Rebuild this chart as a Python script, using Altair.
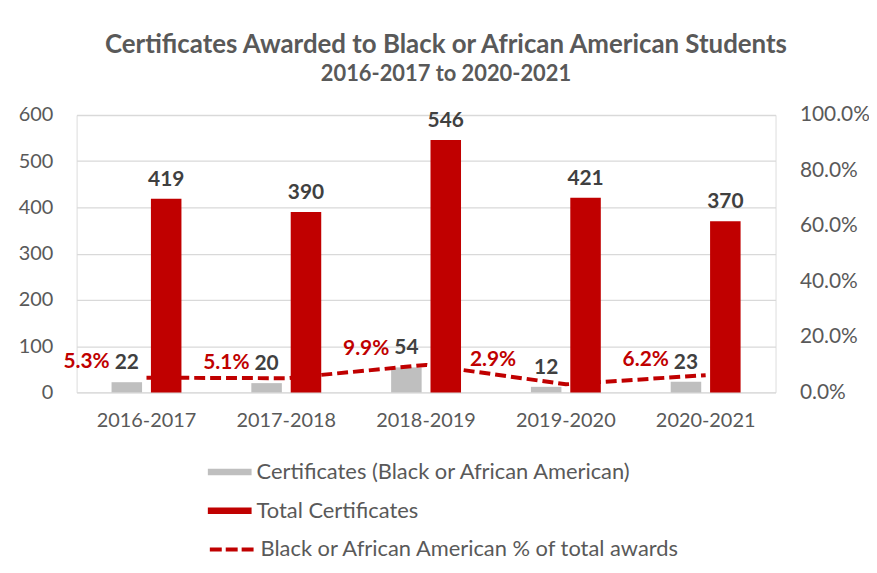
import altair as alt
import pandas as pd

years = ["2016-2017", "2017-2018", "2018-2019", "2019-2020", "2020-2021"]
black_certs = [22, 20, 54, 12, 23]
total_certs = [419, 390, 546, 421, 370]
pct_black = [0.053, 0.051, 0.099, 0.029, 0.062]
pct_labels = ["5.3%", "5.1%", "9.9%", "2.9%", "6.2%"]
bar_series = ["Certificates (Black or African American)", "Total Certificates"]
line_series = "Black or African American % of total awards"

bars_df = pd.DataFrame({
    "year": years * 2,
    "series": [bar_series[0]] * len(years) + [bar_series[1]] * len(years),
    "value": black_certs + total_certs,
})
line_df = pd.DataFrame({
    "year": years,
    "pct": pct_black,
    "label": pct_labels,
    "series": [line_series] * len(years),
})

FONT = "Lato"
GRAY_TXT = "#595959"
RED = "#C00000"

x_enc = alt.X(
    "year:N", sort=years, title=None,
    scale=alt.Scale(paddingInner=0.5, paddingOuter=0.25),
    axis=alt.Axis(labelAngle=0, labelFontSize=20, labelColor=GRAY_TXT, labelPadding=18,
                  domain=False, ticks=False, labelFont=FONT),
)
xoff = alt.XOffset("series:N", sort=bar_series,
                   scale=alt.Scale(paddingInner=0.225, paddingOuter=0))
y_left = alt.Y(
    "value:Q", scale=alt.Scale(domain=[0, 600]), title=None,
    axis=alt.Axis(values=[0, 100, 200, 300, 400, 500, 600], labelFontSize=20, labelColor=GRAY_TXT,
                  labelPadding=24, domain=False, ticks=False, gridColor="#D9D9D9", gridWidth=1.3,
                  labelFont=FONT),
)
y_right = alt.Y(
    "pct:Q", scale=alt.Scale(domain=[0, 1]), title=None,
    axis=alt.Axis(orient="right", format=".1%", values=[0, 0.2, 0.4, 0.6, 0.8, 1.0], grid=False,
                  domain=False, ticks=False, labelPadding=24, labelFontSize=21, labelColor=GRAY_TXT,
                  labelFont=FONT),
)

bars = alt.Chart(bars_df).mark_bar().encode(
    x=x_enc, xOffset=xoff, y=y_left,
    fill=alt.Fill(
        "series:N", scale=alt.Scale(domain=bar_series, range=["#BFBFBF", RED]),
        legend=alt.Legend(
            orient="none", legendX=143, legendY=348, title=None, direction="vertical",
            symbolType="M-2,-0.3H2V0.3H-2Z", symbolSize=484, symbolStrokeWidth=0,
            labelFontSize=22, labelColor=GRAY_TXT, labelFont=FONT, labelOffset=16,
            rowPadding=17, padding=0, labelLimit=600,
        ),
    ),
)
bar_text = alt.Chart(bars_df).mark_text(
    baseline="alphabetic", dy=-13, fontSize=21, fontWeight="bold", color="#404040", font=FONT
).encode(x=x_enc, xOffset=xoff, y=y_left, text=alt.Text("value:Q"))

line = alt.Chart(line_df).mark_line(strokeWidth=4, strokeDash=[11, 5]).encode(
    x=x_enc, y=y_right,
    stroke=alt.Stroke(
        "series:N", scale=alt.Scale(domain=[line_series], range=[RED]),
        legend=alt.Legend(
            orient="none", legendX=143, legendY=424, title=None,
            symbolType="M-2,0H2", symbolSize=484, symbolStrokeWidth=4, symbolDash=[12, 4],
            symbolFillColor="transparent", symbolStrokeColor=RED,
            labelFontSize=22, labelColor=GRAY_TXT, labelFont=FONT, labelOffset=16,
            padding=0, labelLimit=600,
        ),
    ),
)
pct_text_style = dict(align="right", baseline="middle", fontSize=21, fontWeight="bold",
                      color=RED, font=FONT)
line_text = alt.Chart(line_df).transform_filter(
    alt.datum.year != "2019-2020"
).mark_text(dx=-37, dy=-15.5, **pct_text_style).encode(x=x_enc, y=y_right, text="label:N")
line_text_low = alt.Chart(line_df).transform_filter(
    alt.datum.year == "2019-2020"
).mark_text(dx=-50, dy=-24, **pct_text_style).encode(x=x_enc, y=y_right, text="label:N")

chart = alt.layer(
    alt.layer(bars, bar_text),
    alt.layer(line, line_text, line_text_low),
).resolve_scale(y="independent").properties(
    width=703, height=279,
    padding={"left": 69, "top": 106, "right": 94, "bottom": 170},
    autosize=alt.AutoSizeParams(type="none"),
    title=alt.TitleParams(
        "Certificates Awarded to Black or African American Students",
        subtitle="2016-2017 to 2020-2021",
        anchor="middle", dx=20, offset=19, font=FONT, fontSize=26, fontWeight="bold", color=GRAY_TXT,
        subtitleFont=FONT, subtitleFontSize=22, subtitleFontWeight="bold", subtitleColor=GRAY_TXT,
        subtitlePadding=6,
    ),
).configure_view(stroke=None).configure(font=FONT)

chart.save("out.html", embed_options={"renderer": "svg", "actions": False})
